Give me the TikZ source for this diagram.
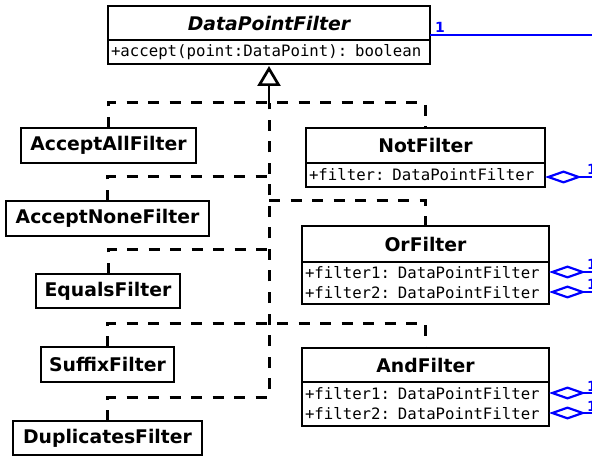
\documentclass[tikz,border=0pt]{standalone}
\usepackage{fontspec}
\setmainfont{DejaVu Sans}
\newfontfamily\monof{DejaVu Sans Mono}
\usetikzlibrary{arrows.meta}

\definecolor{assoc}{RGB}{0,0,255}

\begin{document}
\begin{tikzpicture}[x=1pt,y=-1pt,
  every node/.style={inner sep=0pt,outer sep=0pt},
  titlebox/.style={draw=black,line width=2.7pt,fill=white,anchor=north west,
    font=\fontsize{18.8}{22}\selectfont\bfseries},
  membox/.style 2 args={draw=black,line width=2.7pt,fill=white,anchor=north west,
    minimum width=#1,minimum height=#2,text width=#1-6pt,inner xsep=3pt,align=left,
    font=\monof\fontsize{15.7}{20}\selectfont},
  realize/.style={draw=black,line width=3pt,dash pattern=on 11pt off 10.5pt},
  assocline/.style={draw=assoc,line width=2.7pt},
  agg/.style={assocline,{Diamond[open,fill=white,length=37pt,width=13pt,line width=2.2pt]}-},
  mult/.style={text=assoc,font=\fontsize{14}{16}\selectfont\bfseries,anchor=south west}
]
\useasboundingbox (0,0) rectangle (592,457);
\clip (0,0) rectangle (592,457);

% abstract base class
\node[titlebox,minimum width=322pt,minimum height=34pt,font=\fontsize{18.8}{22}\selectfont\bfseries\itshape]
  (dpf) at (108,6) {DataPointFilter};
\node[membox={322pt}{24pt}] (dpfm) at (108,40) {+accept(point:DataPoint): boolean};

% simple filters
\node[titlebox,minimum width=175pt,minimum height=35pt] (aaf) at (21,128) {AcceptAllFilter};
\node[titlebox,minimum width=203pt,minimum height=35pt] (anf) at (6,201) {AcceptNoneFilter};
\node[titlebox,minimum width=144pt,minimum height=34pt] (ef)  at (36,274) {EqualsFilter};
\node[titlebox,minimum width=133pt,minimum height=35pt] (sf)  at (41,347) {SuffixFilter};
\node[titlebox,minimum width=189pt,minimum height=34pt] (df)  at (13,421) {DuplicatesFilter};

% composite filters
\node[titlebox,minimum width=239pt,minimum height=35pt] (nf) at (306,128) {NotFilter};
\node[membox={239pt}{24pt}] (nfa) at (306,163) {+filter: DataPointFilter};

\node[titlebox,minimum width=247pt,minimum height=36pt] (of) at (302,226) {OrFilter};
\node[membox={247pt}{42pt}] (ofa) at (302,262) {+filter1: DataPointFilter\\+filter2: DataPointFilter};

\node[titlebox,minimum width=247pt,minimum height=34pt] (andf) at (302,348) {AndFilter};
\node[membox={247pt}{44pt}] (andfa) at (302,382) {+filter1: DataPointFilter\\+filter2: DataPointFilter};

% trunk junctions of the realization tree
\coordinate (b0) at (269,87);
\coordinate (b1) at (269,103);
\coordinate (b2) at (269,177);
\coordinate (b3) at (269,201);
\coordinate (b4) at (269,250);
\coordinate (b5) at (269,323);
\coordinate (b6) at (269,397);

\path[realize] (aaf.north) |- (b1) -| (nf.north);
\path[realize] (anf.north) |- (b2);
\path[realize] (b3) -| (of.north);
\path[realize] (ef.north) |- (b4);
\path[realize] (sf.north) |- (b5) -| (andf.north);
\path[realize] (df.north) |- (b6) -- (b1);
\draw[line width=2.7pt,-{Triangle[open,fill=white,length=20pt,width=23pt]},shorten >=2pt]
  (b1) -- (b0) -- (dpfm.south);

% associations leaving the composites
\coordinate (e0) at (600,35);
\coordinate (e1) at (600,177);
\coordinate (e2) at (600,272);
\coordinate (e3) at (600,292);
\coordinate (e4) at (600,393);
\coordinate (e5) at (600,413);
\path[assocline] (dpf.south east |- e0) -- (e0);
\node[mult] (m0) at (435,33) {1};

\path[agg] (nfa.east |- e1) -- (e1);
\path[agg] (ofa.east |- e2) -- (e2);
\path[agg] (ofa.east |- e3) -- (e3);
\path[agg] (andfa.east |- e4) -- (e4);
\path[agg] (andfa.east |- e5) -- (e5);
\node[mult] (m1) at (587,175) {1};
\node[mult] (m2) at (587,270) {1};
\node[mult] (m3) at (587,290) {1};
\node[mult] (m4) at (587,391) {1};
\node[mult] (m5) at (587,411) {1};
\end{tikzpicture}
\end{document}
